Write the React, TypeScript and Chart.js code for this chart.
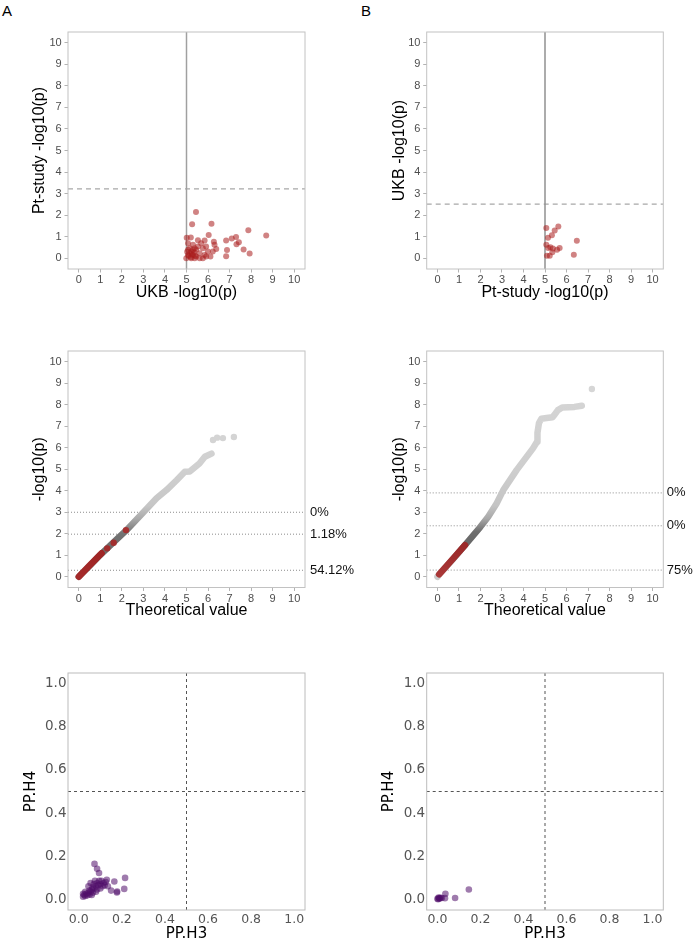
import React, { useEffect, useRef } from 'react';
import { Chart, registerables } from 'chart.js';

Chart.register(...registerables);

// ---------------- data ----------------
const logTicks = [0, 1, 2, 3, 4, 5, 6, 7, 8, 9, 10];
const ppTicks = [0, 0.2, 0.4, 0.6, 0.8, 1.0];
const logRange = [-0.5, 10.5];
const ppRange = [-0.05, 1.05];

// Panel A, top: UKB -log10(p) (x) vs Pt-study -log10(p) (y)
const aTopUkbX = [5.44, 5.26, 6.16, 7.87, 8.70, 6.03, 5.01, 5.20, 5.53, 5.84, 6.27, 6.84, 7.10, 7.30, 7.43, 7.32, 6.38, 6.88, 7.65, 7.93, 6.84, 5.91, 5.68, 5.30, 5.07, 6.30, 6.22, 6.11, 5.76, 5.38, 5.07, 5.22, 5.45, 5.61, 5.84, 5.99, 5.15, 5.30, 5.45, 4.99, 5.22, 5.61, 5.91, 5.15, 5.30, 5.07, 5.53, 5.38, 5.76, 5.10, 5.25, 5.35, 5.20, 5.40, 5.03];
const aTopPtY = [2.15, 1.58, 1.60, 1.30, 1.05, 1.08, 0.95, 0.96, 0.84, 0.82, 0.77, 0.82, 0.91, 0.99, 0.74, 0.65, 0.43, 0.38, 0.40, 0.22, 0.09, 0.54, 0.70, 0.62, 0.70, 0.62, 0.31, 0.08, 0.00, 0.00, 0.15, 0.31, 0.39, 0.23, 0.15, 0.31, 0.46, 0.15, 0.08, 0.00, 0.00, 0.00, 0.08, 0.23, 0.39, 0.39, 0.54, 0.46, 0.46, 0.10, 0.20, 0.28, 0.05, 0.12, 0.30];
const aTopCutX = 5;
const aTopCutY = 3.22;

// Panel B, top: Pt-study -log10(p) (x) vs UKB -log10(p) (y)
const bTopPtX = [5.06, 5.62, 5.45, 5.32, 5.14, 6.48, 5.06, 5.15, 5.25, 5.37, 5.68, 5.56, 5.34, 5.09, 5.22, 6.34];
const bTopUkbY = [1.40, 1.47, 1.29, 1.07, 0.95, 0.81, 0.62, 0.47, 0.51, 0.45, 0.47, 0.39, 0.28, 0.11, 0.11, 0.16];
const bTopCutX = 5;
const bTopCutY = 2.51;

// Panel A, middle: QQ plot
const aQQGreyX = [0, 0.5, 0.99, 1.5, 2.19, 2.99, 3.61, 4.07, 4.54, 4.92, 5.15, 5.6, 5.85, 6.16];
const aQQGreyY = [0, 0.5, 1.01, 1.49, 2.14, 2.99, 3.65, 4.03, 4.49, 4.88, 4.9, 5.27, 5.58, 5.73];
const aQQTailX = [6.23, 6.42, 6.69, 7.2];
const aQQTailY = [6.36, 6.47, 6.45, 6.5];
const aQQRedX = [0, 0.5, 1.06];
const aQQRedY = [0, 0.52, 1.09];
const aQQRedPtX = [1.32, 1.62, 2.19];
const aQQRedPtY = [1.32, 1.58, 2.17];
const aQQCuts = [3, 1.98, 0.301];
const aQQCutLabels = ['0%', '1.18%', '54.12%'];

// Panel B, middle: QQ plot
const bQQGreyX = [0, 0.08, 0.7, 1.28, 1.98, 2.36, 2.75, 3.06, 3.68, 4.44, 4.63, 4.65, 4.72, 4.83, 5.07, 5.35, 5.45, 5.6, 5.8, 6.37, 6.71];
const bQQGreyY = [0, 0.11, 0.8, 1.47, 2.3, 2.79, 3.41, 4.03, 4.96, 5.97, 6.28, 6.7, 7.15, 7.35, 7.38, 7.42, 7.55, 7.75, 7.87, 7.9, 7.95];
const bQQTailX = [7.18];
const bQQTailY = [8.73];
const bQQRedX = [0.08, 1.28];
const bQQRedY = [0.11, 1.47];
const bQQCuts = [3.9, 2.37, 0.31];
const bQQCutLabels = ['0%', '0%', '75%'];

// Panel A, bottom: PP.H3 vs PP.H4
const aH3 = [0.02, 0.025, 0.03, 0.035, 0.04, 0.045, 0.05, 0.05, 0.055, 0.06, 0.065, 0.065, 0.07, 0.07, 0.075, 0.08, 0.085, 0.085, 0.09, 0.095, 0.1, 0.1, 0.105, 0.11, 0.115, 0.12, 0.125, 0.13, 0.135, 0.045, 0.055, 0.06, 0.08, 0.03, 0.02, 0.073, 0.085, 0.094, 0.215, 0.165, 0.211, 0.177, 0.15, 0.178];
const aH4 = [0.012, 0.02, 0.015, 0.025, 0.018, 0.03, 0.022, 0.04, 0.035, 0.045, 0.03, 0.055, 0.05, 0.07, 0.085, 0.06, 0.045, 0.075, 0.065, 0.085, 0.05, 0.07, 0.085, 0.06, 0.075, 0.065, 0.08, 0.09, 0.06, 0.06, 0.075, 0.02, 0.035, 0.035, 0.025, 0.164, 0.141, 0.122, 0.099, 0.082, 0.048, 0.031, 0.04, 0.036];

// Panel B, bottom: PP.H3 vs PP.H4
const bH3 = [0.146, 0.082, 0.037, 0.035, 0.0, 0.005, 0.01, 0.015, 0.02, 0.003, 0.008];
const bH4 = [0.045, 0.006, 0.025, 0.005, 0.002, 0.008, 0.003, 0.007, 0.006, 0.0, 0.005];
const ppCut = 0.5;

// ---------------- helpers ----------------
const pts = (xs: number[], ys: number[]) =>
  xs.slice(0, Math.min(xs.length, ys.length)).map((x, i) => ({ x, y: ys[i] }));
const hLine = (v: number, r: number[]) => [{ x: r[0], y: v }, { x: r[1], y: v }];
const vLine = (v: number, r: number[]) => [{ x: v, y: r[0] }, { x: v, y: r[1] }];

const scatterDs = (data: any[], color: string, r: number, order: number) => ({
  data, backgroundColor: color, borderWidth: 0, pointBorderWidth: 0,
  pointRadius: r, pointHoverRadius: r, showLine: false, order, xAxisID: 'x', yAxisID: 'y',
});
const lineDs = (data: any[], color: any, width: number, dash: number[], order: number, extra: any = {}) => ({
  data, borderColor: color, borderWidth: width, borderDash: dash, pointRadius: 0, pointHoverRadius: 0,
  showLine: true, fill: false, tension: 0, order, xAxisID: 'x', yAxisID: 'y', ...extra,
});
const round = { borderCapStyle: 'round', borderJoinStyle: 'round' };

const gradient = (stops: [number, string][], top: number) => (ctx: any) => {
  const chart = ctx.chart;
  const { chartArea, scales } = chart;
  if (!chartArea || !scales.y) return '#bbbbbb';
  const y0 = scales.y.getPixelForValue(0);
  const y1 = scales.y.getPixelForValue(top);
  const g = chart.ctx.createLinearGradient(0, y0, 0, y1);
  stops.forEach(([v, c]) => g.addColorStop(Math.min(1, Math.max(0, v / top)), c));
  return g;
};

const framePlugin = {
  id: 'frame',
  afterDatasetsDraw(chart: any, _a: any, opts: any) {
    const { ctx, chartArea: a } = chart;
    ctx.save();
    ctx.strokeStyle = opts.color || '#bdbdbd';
    ctx.lineWidth = 1;
    ctx.strokeRect(a.left, a.top, a.right - a.left, a.bottom - a.top);
    ctx.restore();
  },
};

// ---------------- layout ----------------
const COL = [
  { left: 0, width: 360, extraRight: 20, axisW: 68, rightW: 35, yTitleC: 40, yTitleC3: 31, rightPad: 5 },
  { left: 340, width: 356, extraRight: 0, axisW: 86.7, rightW: 32.7, yTitleC: 59.5, yTitleC3: 49, rightPad: 3.5 },
];
const ROW = [
  { top: 20, height: 290, padTop: 12, xAxisH: 41, xTitlePad: 7.9 },
  { top: 335, height: 295, padTop: 16, xAxisH: 42.5, xTitlePad: 9.4 },
  { top: 655, height: 288, padTop: 18, xAxisH: 33, xTitlePad: 0 },
];

const LIB = "'Liberation Sans', Arial, sans-serif";
const DJV = "'DejaVu Sans', sans-serif";

interface Spec {
  col: number; row: number; xTitle: string; yTitle: string;
  range: number[]; ticks: number[]; fmt: (v: number) => string;
  gg: boolean; datasets: any[]; right?: { ticks: number[]; labels: string[] };
}

function buildConfig(s: Spec): any {
  const c = COL[s.col];
  const r = ROW[s.row];
  const gg = s.gg;
  const tickFontX = gg ? { family: LIB, size: 11 } : { family: DJV, size: 12.5 };
  const tickFontY = gg ? { family: LIB, size: 11 } : { family: DJV, size: 13.5 };
  const titleFont = gg ? { family: LIB, size: 16, lineHeight: 1.2 } : { family: DJV, size: 15, lineHeight: 1.2 };
  const half = (titleFont.size * 1.2) / 2;
  const yTitleC = gg ? c.yTitleC : c.yTitleC3;
  const tickLen = gg ? 3.5 : 0;
  const tickColor = gg ? '#4d4d4d' : '#555555';
  const grid = { display: true, drawOnChartArea: false, drawTicks: tickLen > 0, tickLength: tickLen, tickColor: '#b3b3b3', tickWidth: 1 };
  const [mn, mx] = s.range;
  const setTicks = (vals: number[]) => (sc: any) => { sc.ticks = vals.map((v) => ({ value: v })); };
  const scales: any = {
    x: {
      type: 'linear', position: 'bottom', min: mn, max: mx,
      afterBuildTicks: setTicks(s.ticks),
      afterFit: (sc: any) => { sc.height = r.xAxisH; },
      ticks: { autoSkip: false, maxRotation: 0, minRotation: 0, padding: gg ? 0.9 : 2, color: tickColor, font: tickFontX, callback: (v: number) => s.fmt(v) },
      grid, border: { display: false },
      title: { display: true, text: s.xTitle, color: '#000', font: titleFont, padding: { top: 0, bottom: r.xTitlePad } },
    },
    y: {
      type: 'linear', position: 'left', min: mn, max: mx,
      afterBuildTicks: setTicks(s.ticks),
      afterFit: (sc: any) => { sc.width = c.axisW; },
      ticks: { autoSkip: false, padding: gg ? 2.8 : 1.5, color: tickColor, font: tickFontY, callback: (v: number) => s.fmt(v) },
      grid, border: { display: false },
      title: { display: true, text: s.yTitle, color: '#000', font: titleFont, padding: { top: yTitleC - half, bottom: 0 } },
    },
  };
  if (s.right) {
    const rt = s.right;
    scales.y2 = {
      type: 'linear', position: 'right', min: mn, max: mx,
      afterBuildTicks: setTicks(rt.ticks),
      afterFit: (sc: any) => { sc.width = c.rightW + c.extraRight; },
      ticks: { autoSkip: false, padding: c.rightPad, color: '#111', font: { family: LIB, size: 13 }, callback: (_v: number, i: number) => rt.labels[i] },
      grid: { display: false, drawTicks: false },
      border: { display: false },
    };
  }
  return {
    type: 'scatter',
    data: { datasets: s.datasets },
    options: {
      animation: false, responsive: false, devicePixelRatio: 1, events: [],
      layout: { padding: { left: 0, top: r.padTop, bottom: 0, right: s.right ? 0 : c.rightW + c.extraRight } },
      plugins: { legend: { display: false }, tooltip: { enabled: false }, frame: { color: gg ? '#c2c2c2' : '#bcbcbc' } },
      scales,
    },
    plugins: [framePlugin],
  };
}

const fmtInt = (v: number) => String(Math.round(v));
const fmt1 = (v: number) => v.toFixed(1);
const red = 'rgba(170,30,30,0.55)';
const purple = 'rgba(80,15,105,0.55)';

const aStops: [number, string][] = [[0, '#9a9a9a'], [0.9, '#6a6a6a'], [2.0, '#727272'], [2.7, '#aaaaaa'], [3.3, '#c6c6c6'], [5, '#d0d0d0'], [9, '#d8d8d8']];
const bStops: [number, string][] = [[0, '#cccccc'], [0.6, '#999999'], [1.4, '#666666'], [2.1, '#6e6e6e'], [2.7, '#a8a8a8'], [3.3, '#c4c4c4'], [5, '#cecece'], [9, '#d6d6d6']];

const panels: Spec[] = [
  {
    col: 0, row: 0, xTitle: 'UKB -log10(p)', yTitle: 'Pt-study -log10(p)', range: logRange, ticks: logTicks, fmt: fmtInt, gg: true,
    datasets: [
      lineDs(vLine(aTopCutX, logRange), '#a0a0a0', 1.5, [], 3),
      lineDs(hLine(aTopCutY, logRange), '#a8a8a8', 1.2, [5, 4], 3),
      scatterDs(pts(aTopUkbX, aTopPtY), red, 3, 1),
    ],
  },
  {
    col: 1, row: 0, xTitle: 'Pt-study -log10(p)', yTitle: 'UKB -log10(p)', range: logRange, ticks: logTicks, fmt: fmtInt, gg: true,
    datasets: [
      lineDs(vLine(bTopCutX, logRange), '#909090', 1.5, [], 3),
      lineDs(hLine(bTopCutY, logRange), '#a8a8a8', 1.2, [5, 4], 3),
      scatterDs(pts(bTopPtX, bTopUkbY), red, 3, 1),
    ],
  },
  {
    col: 0, row: 1, xTitle: 'Theoretical value', yTitle: '-log10(p)', range: logRange, ticks: logTicks, fmt: fmtInt, gg: true,
    right: { ticks: aQQCuts, labels: aQQCutLabels },
    datasets: [
      ...aQQCuts.map((v) => lineDs(hLine(v, logRange), '#8c8c8c', 1, [1, 2], 6)),
      lineDs(pts(aQQGreyX, aQQGreyY), gradient(aStops, 9), 6.5, [], 4, round),
      scatterDs(pts(aQQTailX, aQQTailY), '#d4d4d4', 3.2, 3),
      lineDs(pts(aQQRedX, aQQRedY), 'rgba(165,30,30,0.9)', 6.5, [], 2, round),
      scatterDs(pts(aQQRedPtX, aQQRedPtY), 'rgba(170,35,35,0.85)', 3.2, 1),
    ],
  },
  {
    col: 1, row: 1, xTitle: 'Theoretical value', yTitle: '-log10(p)', range: logRange, ticks: logTicks, fmt: fmtInt, gg: true,
    right: { ticks: bQQCuts, labels: bQQCutLabels },
    datasets: [
      ...bQQCuts.map((v) => lineDs(hLine(v, logRange), '#8c8c8c', 1, [1, 2], 6)),
      lineDs(pts(bQQGreyX, bQQGreyY), gradient(bStops, 9), 6.5, [], 4, round),
      scatterDs(pts(bQQTailX, bQQTailY), '#d6d6d6', 3.2, 3),
      lineDs(pts(bQQRedX, bQQRedY), 'rgba(165,30,30,0.85)', 6.5, [], 2, round),
    ],
  },
  {
    col: 0, row: 2, xTitle: 'PP.H3', yTitle: 'PP.H4', range: ppRange, ticks: ppTicks, fmt: fmt1, gg: false,
    datasets: [
      lineDs(vLine(ppCut, ppRange), '#555555', 1, [3, 3], 3),
      lineDs(hLine(ppCut, ppRange), '#555555', 1, [3, 3], 3),
      scatterDs(pts(aH3, aH4), purple, 3.3, 1),
    ],
  },
  {
    col: 1, row: 2, xTitle: 'PP.H3', yTitle: 'PP.H4', range: ppRange, ticks: ppTicks, fmt: fmt1, gg: false,
    datasets: [
      lineDs(vLine(ppCut, ppRange), '#555555', 1, [3, 3], 3),
      lineDs(hLine(ppCut, ppRange), '#555555', 1, [3, 3], 3),
      scatterDs(pts(bH3, bH4), purple, 3.3, 1),
    ],
  },
];

function Panel({ spec }: { spec: Spec }) {
  const ref = useRef<HTMLCanvasElement>(null);
  const c = COL[spec.col];
  const r = ROW[spec.row];
  useEffect(() => {
    if (!ref.current) return;
    const chart = new Chart(ref.current, buildConfig(spec));
    return () => chart.destroy();
  }, []);
  return (
    <canvas
      ref={ref}
      width={c.width}
      height={r.height}
      style={{ position: 'absolute', left: c.left, top: r.top, width: c.width, height: r.height }}
    />
  );
}

const labelStyle: React.CSSProperties = {
  position: 'absolute', top: 3, fontFamily: LIB, fontSize: 15, lineHeight: '15px', color: '#000',
};

export default function App() {
  return (
    <div style={{ position: 'absolute', left: 0, top: 0, width: 696, height: 943, background: '#fff', overflow: 'hidden' }}>
      <div style={{ ...labelStyle, left: 2 }}>A</div>
      <div style={{ ...labelStyle, left: 361 }}>B</div>
      {panels.map((p, i) => (
        <Panel key={i} spec={p} />
      ))}
    </div>
  );
}
